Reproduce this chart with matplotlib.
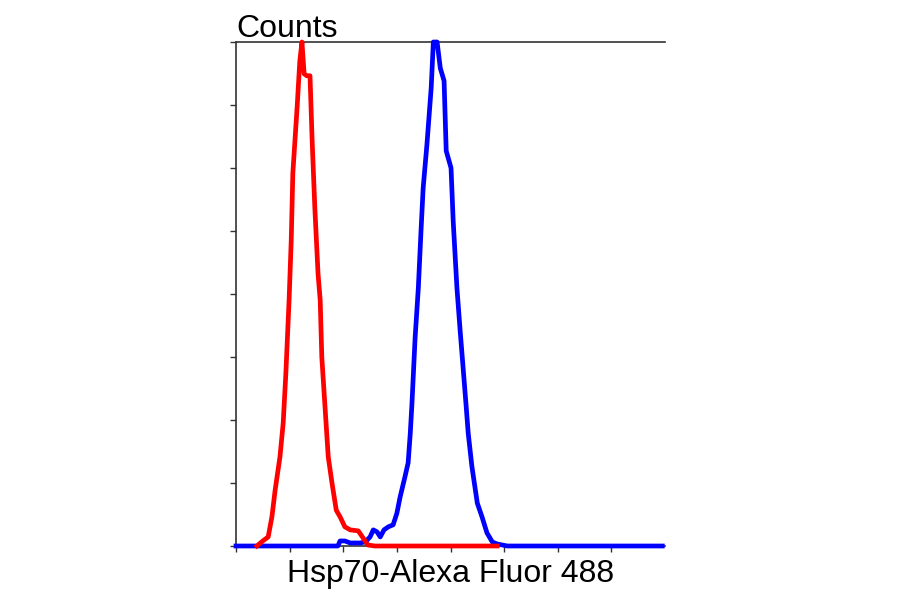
import matplotlib
matplotlib.use("Agg")
import matplotlib.pyplot as plt

# Fluorescence axis in tick (decade) units, counts as % of peak
red_x = [0.39, 0.50, 0.60, 0.67, 0.73, 0.82, 0.88, 0.93, 0.99, 1.03, 1.06, 1.14, 1.19, 1.23,
         1.27, 1.32, 1.38, 1.42, 1.47, 1.53, 1.57, 1.60, 1.66, 1.72, 1.79, 1.87, 1.94, 2.03,
         2.13, 2.28, 2.37, 2.46, 2.59, 4.87]
red_y = [0, 1.0, 1.8, 5.8, 11.1, 17.7, 24.4, 34.3, 48.8, 60.7, 74.0, 87.1, 96.2, 100,
         93.7, 93.3, 93.3, 80.4, 67.1, 54.0, 48.8, 37.5, 27.6, 17.7, 12.5, 7.1, 5.8, 3.8,
         3.2, 3.0, 1.6, 0.2, 0, 0]

blue_x = [0, 1.90, 1.94, 2.03, 2.13, 2.18, 2.31, 2.41, 2.50, 2.56, 2.63, 2.69, 2.76, 2.84,
          2.93, 3.00, 3.06, 3.15, 3.21, 3.25, 3.28, 3.34, 3.40, 3.45, 3.49, 3.56, 3.64, 3.68,
          3.73, 3.75, 3.81, 3.88, 3.92, 4.01, 4.05, 4.12, 4.18, 4.24, 4.29, 4.33, 4.40, 4.50,
          4.59, 4.68, 4.78, 4.87, 5.06, 7.95]
blue_y = [0, 0, 1.0, 1.0, 0.6, 0.6, 0.6, 0.8, 1.8, 3.2, 2.8, 1.8, 3.2, 3.8,
          4.2, 6.5, 9.7, 13.7, 16.5, 22.4, 28.0, 41.3, 51.2, 62.5, 71.0, 79.6, 90.9, 100,
          100, 100, 94.8, 92.3, 78.4, 75.0, 64.5, 51.2, 42.7, 34.7, 28.0, 22.4, 15.7, 8.5,
          5.7, 2.6, 0.8, 0.4, 0, 0]

x_ticks = [0, 1, 2, 3, 4, 5, 6, 7]
y_ticks = [0, 12.5, 25, 37.5, 50, 62.5, 75, 87.5, 100]

fig = plt.figure(figsize=(9, 5.94), dpi=100)
ax = fig.add_axes([236/900, 1-546/594, (665-236)/900, (546-42)/594])

ax.plot(blue_x, blue_y, color="#0000ff", lw=3.4, zorder=3, clip_on=False, solid_joinstyle="round")
ax.plot(red_x, red_y, color="#ff0000", lw=3.4, zorder=4, clip_on=False, solid_joinstyle="round")

ax.set_xlim(0, 8)
ax.set_ylim(0, 100)
ax.set_xticks(x_ticks)
ax.set_yticks(y_ticks)
ax.set_xticklabels([])
ax.set_yticklabels([])
ax.tick_params(direction="out", length=4, width=1, color="#333333")
ax.spines["right"].set_visible(False)
for s in ["left", "top", "bottom"]:
    ax.spines[s].set_color("#333333")
    ax.spines[s].set_linewidth(1.2)

ax.set_xlabel("Hsp70-Alexa Fluor 488", family=["Liberation Sans", "DejaVu Sans"],
              fontsize=23, labelpad=2)
ax.text(0, 1 + 5/504, "Counts", transform=ax.transAxes, ha="left", va="baseline",
        family=["Liberation Sans", "DejaVu Sans"], fontsize=23)

fig.savefig("out.png", dpi=100)
